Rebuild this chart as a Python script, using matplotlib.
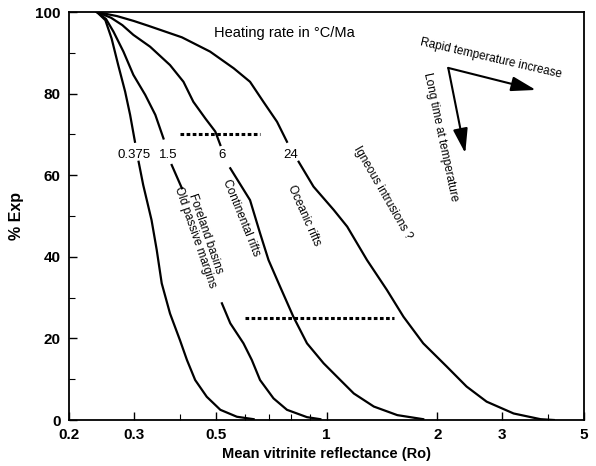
import numpy as np
import matplotlib
matplotlib.use("Agg")
import matplotlib.pyplot as plt
from matplotlib.ticker import FixedLocator, NullFormatter

plt.rcParams['font.family'] = ['Liberation Sans', 'DejaVu Sans']

# Curves (NaN = gap left for a label)
nan = np.nan
r0375_x = [0.238, 0.251, 0.261, 0.272, 0.284, 0.293, 0.302, nan,
           0.309, 0.318, 0.327, 0.335, 0.346, 0.357, 0.376, 0.40, 0.418, 0.44, 0.473, 0.515, 0.571, 0.634]
r0375_y = [100, 98, 93.5, 87, 80.5, 74.8, 68.2, nan,
           63.3, 57.6, 53.0, 49, 41.7, 33.5, 26.1, 19.6, 14.7, 9.8, 5.7, 2.5, 0.8, 0.2]

r15_x = [0.238, 0.252, 0.264, 0.281, 0.299, 0.322, 0.343, 0.361, nan, 0.380, 0.405, nan,
         0.52, 0.548, 0.595, 0.627, 0.66, 0.718, 0.781, 0.885, 0.962]
r15_y = [100, 98.3, 95.2, 90.3, 84.6, 79.7, 74.8, 69, nan, 62.5, 56.8, nan,
         28.6, 23.7, 18.8, 14.7, 9.8, 5.3, 2.5, 0.7, 0.2]

r6_x = [0.238, 0.26, 0.279, 0.299, 0.332, 0.376, 0.409, 0.435, 0.469, 0.499, 0.515, nan,
        0.548, 0.62, 0.66, 0.696, 0.748, 0.813, 0.885, 0.982, 1.09, 1.186, 1.344, 1.556, 1.83]
r6_y = [100, 98.6, 96.8, 94.4, 91.5, 87, 82.9, 78, 73.9, 70.7, 67.4, nan,
        61.7, 53.9, 45.8, 39.2, 32.7, 25.3, 18.8, 13.9, 9.8, 6.5, 3.3, 1.2, 0.2]

r24_x = [0.238, 0.27, 0.30, 0.329, 0.365, 0.405, 0.483, 0.56, 0.62, 0.674, 0.734, 0.781, nan,
         0.84, 0.922, 1.046, 1.138, 1.288, 1.458, 1.618, 1.83, 2.12, 2.40, 2.72, 3.22, 3.81, 4.14]
r24_y = [100, 99.0, 97.8, 96.6, 95.2, 93.8, 90.3, 86.2, 82.9, 78, 73.1, 68.2, nan,
         63.3, 57.2, 51.5, 47.4, 39.2, 31.9, 25.3, 18.8, 13.1, 8.2, 4.5, 1.6, 0.2, 0.0]

rate_labels = ['0.375', '1.5', '6', '24']
rate_label_x = [0.301, 0.372, 0.52, 0.80]
rate_label_y = 65

# dotted guide lines
dot1_x = [0.40, 0.66]
dot1_y = [70, 70]
dot2_x = [0.60, 1.52]
dot2_y = [25, 25]

xticks = [0.2, 0.3, 0.5, 1, 2, 3, 5]
xtick_labels = ['0.2', '0.3', '0.5', '1', '2', '3', '5']

fig = plt.figure(figsize=(5.96, 4.66), dpi=100)
ax = fig.add_axes([0.1158, 0.0987, 0.8641, 0.8755])

for xs, ys in [(r0375_x, r0375_y), (r15_x, r15_y), (r6_x, r6_y), (r24_x, r24_y)]:
    ax.plot(xs, ys, color='black', lw=1.6, solid_joinstyle='round')

ax.plot(dot1_x, dot1_y, color='black', lw=2.2, linestyle=(0, (1.2, 0.8)))
ax.plot(dot2_x, dot2_y, color='black', lw=2.2, linestyle=(0, (1.2, 0.8)))

for lab, lx in zip(rate_labels, rate_label_x):
    ax.text(lx, rate_label_y, lab, ha='center', va='center', fontsize=9.5)

ax.text(0.77, 94.9, 'Heating rate in °C/Ma', ha='center', va='center', fontsize=10.5)

ax.text(0.454, 45.3, 'Foreland basins\nOld passive margins', rotation=-71,
        ha='center', va='center', fontsize=8.5, rotation_mode='anchor', linespacing=1.0)
ax.text(0.586, 49.5, 'Continental rifts', rotation=-68,
        ha='center', va='center', fontsize=8.5, rotation_mode='anchor')
ax.text(0.87, 50.2, 'Oceanic rifts', rotation=-66,
        ha='center', va='center', fontsize=8.5, rotation_mode='anchor')
ax.text(1.42, 55.6, 'Igneous intrusions ?', rotation=-60,
        ha='center', va='center', fontsize=8.5, rotation_mode='anchor')
ax.text(2.8, 88.7, 'Rapid temperature increase', rotation=-13,
        ha='center', va='center', fontsize=8.5, rotation_mode='anchor')
ax.text(2.04, 69.4, 'Long time at temperature', rotation=-78,
        ha='center', va='center', fontsize=8.5, rotation_mode='anchor')

arrow = dict(arrowstyle='-|>,head_length=1.5,head_width=0.45', lw=1.5, color='black',
             shrinkA=0, shrinkB=0)
ax.annotate('', xy=(3.7, 80.9), xytext=(2.14, 86.3), arrowprops=arrow)
ax.annotate('', xy=(2.38, 65.4), xytext=(2.14, 86.3), arrowprops=arrow)

ax.set_xscale('log')
ax.set_xlim(0.2, 5)
ax.set_ylim(0, 100)
ax.xaxis.set_major_locator(FixedLocator(xticks))
ax.set_xticklabels(xtick_labels)
ax.xaxis.set_minor_locator(FixedLocator([0.4, 0.6, 0.7, 0.8, 0.9, 4]))
ax.xaxis.set_minor_formatter(NullFormatter())
ax.set_yticks([0, 20, 40, 60, 80, 100])
ax.set_yticks([10, 30, 50, 70, 90], minor=True)
ax.tick_params(which='both', direction='in', top=False, right=False)
ax.tick_params(which='major', length=6, width=1, labelsize=11, pad=6)
ax.tick_params(which='minor', length=4, width=0.8)
for t in ax.get_xticklabels() + ax.get_yticklabels():
    t.set_fontweight('bold')
for s in ax.spines.values():
    s.set_linewidth(1.3)

ax.set_xlabel('Mean vitrinite reflectance (Ro)', fontsize=10.5, fontweight='bold', labelpad=3)
ax.set_ylabel('% Exp', fontsize=11.5, fontweight='bold', labelpad=8)

fig.savefig('out.png', dpi=100)
